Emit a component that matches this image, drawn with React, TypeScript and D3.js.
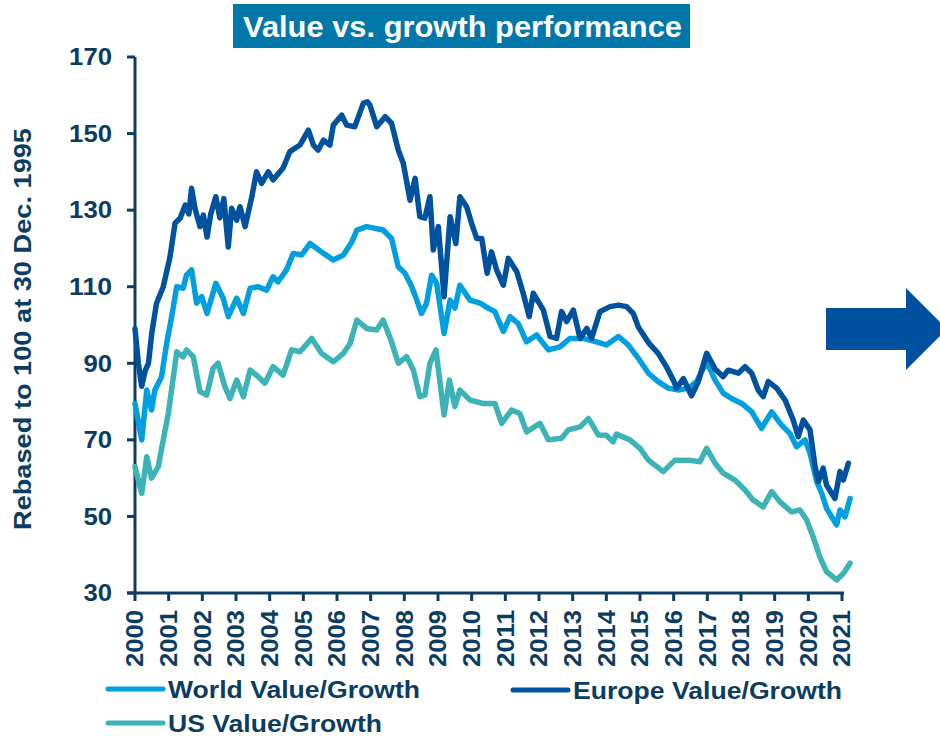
import * as d3 from "d3";

// Value / growth ratios, rebased to 100 at 30 Dec. 1995
const europeDates = [2000.0, 2000.1, 2000.2, 2000.3, 2000.4, 2000.5, 2000.64, 2000.84, 2001.04, 2001.19, 2001.34, 2001.49, 2001.6, 2001.68, 2001.78, 2001.93, 2002.03, 2002.14, 2002.25, 2002.4, 2002.52, 2002.64, 2002.77, 2002.87, 2003.02, 2003.12, 2003.27, 2003.47, 2003.61, 2003.76, 2003.96, 2004.1, 2004.4, 2004.6, 2004.9, 2005.15, 2005.3, 2005.44, 2005.6, 2005.79, 2005.89, 2006.14, 2006.29, 2006.53, 2006.78, 2006.9, 2006.98, 2007.18, 2007.43, 2007.62, 2007.82, 2007.97, 2008.17, 2008.32, 2008.46, 2008.61, 2008.76, 2008.86, 2009.01, 2009.18, 2009.36, 2009.53, 2009.65, 2009.85, 2010.0, 2010.15, 2010.3, 2010.46, 2010.59, 2010.74, 2010.94, 2011.09, 2011.34, 2011.53, 2011.71, 2011.83, 2012.13, 2012.33, 2012.52, 2012.67, 2012.82, 2013.02, 2013.22, 2013.42, 2013.56, 2013.81, 2014.11, 2014.36, 2014.6, 2014.8, 2014.95, 2015.25, 2015.54, 2015.79, 2015.99, 2016.09, 2016.29, 2016.53, 2016.73, 2016.98, 2017.23, 2017.47, 2017.62, 2017.92, 2018.12, 2018.32, 2018.51, 2018.66, 2018.81, 2019.06, 2019.31, 2019.55, 2019.7, 2019.85, 2020.05, 2020.2, 2020.3, 2020.44, 2020.54, 2020.79, 2020.94, 2021.04, 2021.19];
const europeValues = [99, 90, 84, 88, 90, 98, 105.7, 110, 117.8, 126.6, 127.9, 131.3, 129, 135.7, 130.5, 125.7, 128.7, 123, 129, 133.5, 128, 133, 120.4, 130.5, 127.4, 130.9, 125.7, 133.5, 140, 137, 140, 137.9, 141, 145.3, 147, 150.9, 147, 145.7, 148.3, 147, 152.2, 154.8, 152.2, 151.8, 157.9, 158.3, 157.4, 151.8, 154.4, 152.7, 145.7, 142.2, 132.6, 138.3, 128.3, 127.9, 133.5, 119.6, 125.7, 107.4, 128.3, 121.3, 133.5, 130.9, 126.5, 122.6, 122.6, 113.5, 119.1, 114.4, 110.4, 117.4, 113.9, 108.3, 102.2, 108.3, 103.9, 97, 96.5, 103.5, 100.9, 103.9, 96.5, 99.1, 96.5, 103.5, 104.8, 105.2, 104.8, 103, 99.5, 95.4, 92.6, 89, 85.6, 83.5, 86, 81.5, 85.2, 92.6, 88.5, 86.5, 88.2, 87.4, 89.1, 87.4, 83, 81.3, 85.2, 83.5, 80.4, 75.2, 70.8, 75.2, 72.6, 63, 59.1, 62.6, 58.2, 54.7, 61.7, 59.5, 63.9];

const worldDates = [2000.0, 2000.2, 2000.35, 2000.49, 2000.59, 2000.79, 2000.94, 2001.09, 2001.24, 2001.43, 2001.53, 2001.68, 2001.83, 2001.98, 2002.14, 2002.4, 2002.62, 2002.77, 2003.02, 2003.22, 2003.42, 2003.66, 2003.91, 2004.1, 2004.25, 2004.5, 2004.7, 2004.95, 2005.2, 2005.4, 2005.6, 2005.89, 2006.19, 2006.44, 2006.59, 2006.88, 2007.37, 2007.62, 2007.82, 2008.02, 2008.22, 2008.37, 2008.51, 2008.66, 2008.81, 2008.96, 2009.18, 2009.36, 2009.5, 2009.65, 2009.95, 2010.25, 2010.49, 2010.69, 2010.94, 2011.14, 2011.38, 2011.63, 2011.93, 2012.28, 2012.62, 2012.92, 2013.31, 2013.71, 2014.0, 2014.36, 2014.65, 2014.95, 2015.25, 2015.54, 2015.84, 2016.14, 2016.44, 2016.68, 2016.98, 2017.23, 2017.47, 2017.72, 2018.02, 2018.32, 2018.61, 2018.91, 2019.2, 2019.45, 2019.65, 2019.9, 2020.05, 2020.25, 2020.4, 2020.54, 2020.84, 2020.94, 2021.09, 2021.24];
const worldValues = [79.5, 70, 83, 77.8, 83, 86.5, 95.2, 102.2, 110, 109.6, 113, 114.4, 105.7, 107.4, 103, 110.9, 107, 102.2, 107, 103, 109.6, 110, 109.1, 112.6, 111.3, 114.4, 118.7, 118.3, 121.3, 120, 118.7, 117, 118.3, 121.7, 124.8, 125.7, 124.8, 122.6, 115.2, 113.5, 110, 106.5, 103, 105.7, 113, 110.9, 97.8, 106.5, 104.4, 110.4, 106.5, 105.7, 104.4, 103.5, 98.3, 102.2, 100.4, 95.6, 97.4, 93.5, 94.3, 96.5, 96.5, 95.6, 94.8, 97, 94.8, 91.3, 87.4, 85.2, 83.5, 83, 83.5, 85.2, 90.4, 85.6, 82.2, 80.8, 79.5, 77.3, 73, 77.3, 73.9, 71.7, 68.2, 70, 66.5, 59.1, 56, 52.1, 47.8, 51.7, 49.9, 54.7];

const usDates = [2000.0, 2000.2, 2000.35, 2000.49, 2000.69, 2000.84, 2000.99, 2001.14, 2001.24, 2001.43, 2001.53, 2001.73, 2001.93, 2002.13, 2002.32, 2002.47, 2002.67, 2002.82, 2003.02, 2003.22, 2003.42, 2003.66, 2003.86, 2004.1, 2004.4, 2004.65, 2004.9, 2005.25, 2005.54, 2005.89, 2006.19, 2006.39, 2006.59, 2006.88, 2007.18, 2007.37, 2007.62, 2007.82, 2008.07, 2008.27, 2008.46, 2008.61, 2008.76, 2008.94, 2009.18, 2009.34, 2009.5, 2009.65, 2009.95, 2010.34, 2010.69, 2010.89, 2011.19, 2011.43, 2011.63, 2012.03, 2012.28, 2012.67, 2012.87, 2013.22, 2013.47, 2013.76, 2014.0, 2014.2, 2014.3, 2014.7, 2015.0, 2015.25, 2015.69, 2016.04, 2016.44, 2016.78, 2016.98, 2017.23, 2017.47, 2017.82, 2018.12, 2018.36, 2018.66, 2018.91, 2019.16, 2019.5, 2019.75, 2019.95, 2020.14, 2020.34, 2020.54, 2020.84, 2021.04, 2021.24];
const usValues = [63, 56, 65.6, 60, 63, 70, 76.9, 86.5, 93, 91.7, 93.5, 91.7, 82.6, 81.7, 88.7, 90, 83.9, 80.8, 85.6, 81.3, 88.2, 86.5, 84.8, 89.1, 86.9, 93.5, 93, 96.5, 92.6, 90.4, 92.6, 95.2, 101.3, 99.1, 98.7, 101.3, 95.6, 90, 91.7, 88.2, 81.3, 81.7, 90, 93.5, 76.5, 85.6, 78.7, 83, 80.4, 79.5, 79.5, 74.3, 77.8, 76.9, 72.1, 74.3, 70, 70.4, 72.6, 73.4, 75.6, 71.3, 71.2, 69.5, 71.5, 70, 67.8, 64.7, 61.7, 64.7, 64.7, 64.3, 67.8, 63.9, 61.3, 59.5, 56.9, 54.3, 52.5, 56.5, 53.8, 51.2, 51.7, 49.1, 44.7, 39.5, 35.6, 33.4, 35.1, 37.8];

const yearTicks = d3.range(2000, 2022);
const valueTicks = [30, 50, 70, 90, 110, 130, 150, 170];

const seriesNames = ["World Value/Growth", "Europe Value/Growth", "US Value/Growth"];

const NAVY = "#0c3c60";
const C_WORLD = "#009fdf";
const C_EUROPE = "#00519e";
const C_US = "#3bb3b7";
const FONT = "'Liberation Sans', Arial, sans-serif";

export default function App() {
  const width = 940;
  const height = 736;

  const x = d3.scaleLinear().domain([2000, 2021]).range([135, 842]);
  const y = d3.scaleLinear().domain([30, 170]).range([593, 57]);

  const line = d3
    .line<[number, number]>()
    .x((d) => x(d[0]))
    .y((d) => y(d[1]));

  const series = [
    { name: seriesNames[2], color: C_US, pts: usDates.map((d, i) => [d, usValues[i]] as [number, number]) },
    { name: seriesNames[0], color: C_WORLD, pts: worldDates.map((d, i) => [d, worldValues[i]] as [number, number]) },
    { name: seriesNames[1], color: C_EUROPE, pts: europeDates.map((d, i) => [d, europeValues[i]] as [number, number]) },
  ];

  // text widths measured on the original
  const legend = [
    { name: seriesNames[0], color: C_WORLD, lx: 108, ly: 689, tw: 252 },
    { name: seriesNames[1], color: C_EUROPE, lx: 513, ly: 690, tw: 269 },
    { name: seriesNames[2], color: C_US, lx: 108, ly: 723, tw: 214 },
  ];

  return (
    <svg
      width={width}
      height={height}
      style={{ position: "absolute", left: 0, top: 0, background: "#fff" }}
      fontFamily={FONT}
    >
      {/* title */}
      <rect x={233} y={4} width={457} height={44} fill="#0077a8" />
      <text
        x={243}
        y={37}
        fill="#fff"
        fontSize={30}
        fontWeight="bold"
        textLength={439}
        lengthAdjust="spacingAndGlyphs"
      >
        Value vs. growth performance
      </text>

      {/* y axis */}
      <line x1={x(2000)} x2={x(2000)} y1={y(170)} y2={y(30)} stroke={NAVY} strokeWidth={3} />
      {valueTicks.map((v) => (
        <g key={v}>
          <line x1={x(2000) - 8} x2={x(2000)} y1={y(v)} y2={y(v)} stroke={NAVY} strokeWidth={3} />
          <text
            x={112 - String(v).length * 14.3}
            y={y(v)}
            dy="0.36em"
            fill={NAVY}
            fontSize={23}
            fontWeight="bold"
            textLength={String(v).length * 14.3}
            lengthAdjust="spacingAndGlyphs"
          >
            {v}
          </text>
        </g>
      ))}
      <text
        transform={`translate(31,530) rotate(-90)`}
        fill={NAVY}
        fontSize={23}
        fontWeight="bold"
        textLength={402}
        lengthAdjust="spacingAndGlyphs"
      >
        Rebased to 100 at 30 Dec. 1995
      </text>

      {/* x axis */}
      <line x1={x(2000) - 8} x2={x(2021) + 2} y1={y(30)} y2={y(30)} stroke={NAVY} strokeWidth={3} />
      {yearTicks.map((yr) => (
        <g key={yr}>
          <line x1={x(yr)} x2={x(yr)} y1={y(30)} y2={y(30) + 8} stroke={NAVY} strokeWidth={3} />
          <text
            transform={`translate(${x(yr)},${y(30) + 74}) rotate(-90)`}
            dy="0.36em"
            fill={NAVY}
            fontSize={23}
            fontWeight="bold"
            textLength={57}
            lengthAdjust="spacingAndGlyphs"
          >
            {yr}
          </text>
        </g>
      ))}

      {/* series */}
      {series.map((s) => (
        <path
          key={s.name}
          d={line(s.pts) ?? ""}
          fill="none"
          stroke={s.color}
          strokeWidth={5.5}
          strokeLinejoin="round"
          strokeLinecap="round"
        />
      ))}

      {/* arrow */}
      <path d="M826,308 L906,308 L906,288 L947,329 L906,370 L906,350 L826,350 Z" fill="#0050a0" />

      {/* legend */}
      {legend.map((l) => (
        <g key={l.name}>
          <line x1={l.lx} x2={l.lx + 55} y1={l.ly} y2={l.ly} stroke={l.color} strokeWidth={5} strokeLinecap="round" />
          <text
            x={l.lx + 60}
            y={l.ly}
            dy="0.36em"
            fill={NAVY}
            fontSize={24}
            fontWeight="bold"
            textLength={l.tw}
            lengthAdjust="spacingAndGlyphs"
          >
            {l.name}
          </text>
        </g>
      ))}
    </svg>
  );
}
